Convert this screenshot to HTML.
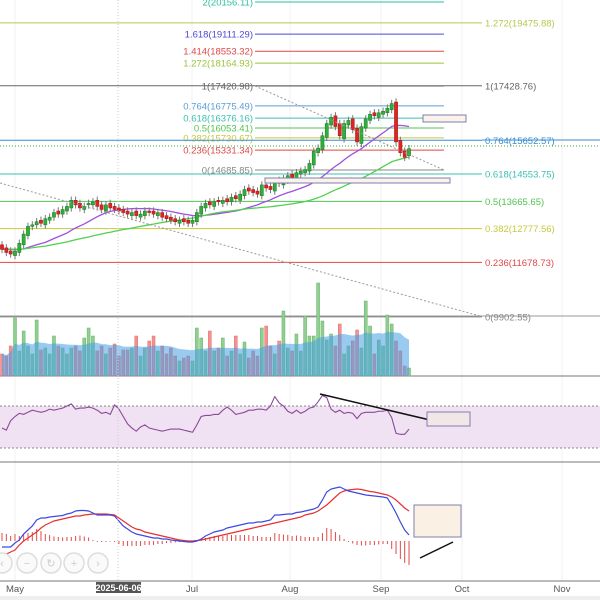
<!DOCTYPE html>
<html><head><meta charset="utf-8"><style>
html,body{margin:0;padding:0;background:#fff}
svg{display:block;font-family:"Liberation Sans",sans-serif}
</style></head><body>
<svg id="chart" width="600" height="600" viewBox="0 0 600 600">
<rect width="600" height="600" fill="#fff"/>
<g id="grid"></g>
<g id="fibs"></g>
<g id="vol"></g>
<g id="price"></g>
<g id="rsi"></g>
<g id="macd"></g>
<g id="ann">
  <line x1="0" y1="183" x2="480" y2="316" stroke="#999" stroke-dasharray="2,2"/>
  <line x1="255" y1="86" x2="444" y2="170" stroke="#999" stroke-dasharray="2,2"/>
  <rect x="423" y="115" width="43" height="7" fill="#fbf3ea" stroke="#7f7fb0"/>
  <rect x="265" y="178" width="185" height="5" fill="#fbf3ea" stroke="#7f7fb0"/>
  <line x1="320" y1="394" x2="430" y2="420" stroke="#111" stroke-width="1.5"/>
  <rect x="427" y="412" width="43" height="14" fill="#f3e6e6" stroke="#7f7fb0"/>
  <rect x="414" y="505" width="47" height="32" fill="#fbf0e4" stroke="#7f7fb0"/>
  <line x1="420" y1="558" x2="453" y2="542" stroke="#111" stroke-width="1.5"/>
</g>
<g id="axis"></g>
<g id="zoom"></g>
<rect x="0" y="596" width="600" height="4" fill="#eee"/>
</svg>
<script>
const NS="http://www.w3.org/2000/svg";
const closes=[12100,12000,11950,12050,12300,12600,12850,12900,13000,12950,13100,13150,13300,13250,13400,13500,13700,13550,13450,13500,13600,13650,13500,13400,13550,13450,13400,13350,13300,13250,13300,13200,13250,13350,13300,13250,13300,13150,13100,13050,13000,13050,13000,12950,13050,13300,13500,13600,13550,13650,13650,13700,13650,13800,13750,13900,14050,14000,13950,13900,14200,14100,14050,14300,14250,14400,14500,14450,14600,14650,14700,14900,15300,15400,15800,16200,16400,16100,15800,16200,16300,16000,15600,16100,16350,16500,16450,16550,16600,16700,16850,15600,15250,15100,15380];
const opens=[12250,12150,12050,11900,12000,12250,12550,12850,12900,13050,12900,13050,13150,13350,13250,13350,13450,13700,13600,13400,13550,13550,13700,13550,13350,13600,13500,13450,13400,13350,13200,13350,13150,13200,13350,13350,13200,13300,13200,13150,13100,12950,13100,13050,12950,13000,13250,13450,13650,13500,13700,13600,13750,13650,13850,13700,13850,14100,14050,14000,13850,14200,14150,14000,14350,14200,14350,14550,14400,14550,14600,14650,14850,15250,15350,15750,16150,16450,16200,15700,16150,16350,16050,15550,16050,16300,16550,16400,16500,16550,16650,16900,15650,15300,15150];
const volumes=[22,20,30,58,25,45,30,22,56,26,28,22,40,30,28,22,28,30,25,38,48,40,25,30,22,28,32,20,26,26,28,40,20,28,35,40,25,30,22,28,20,15,18,20,15,48,38,25,45,25,28,38,20,25,40,22,34,18,25,20,48,50,30,22,35,65,28,25,42,25,60,40,40,93,55,36,42,30,52,22,30,35,46,28,75,50,22,36,30,61,52,35,25,10,8];
const rsiValues=[49,47,56,60,63,62,64,66,65,64,65,67,66,67,68,70,72,67,68,68,69,68,66,63,64,62,71,67,60,53,49,46,50,52,49,48,47,46,47,48,48,48,47,46,45,52,60,61,61,62,62,66,69,66,62,63,64,66,66,67,67,66,70,79,73,70,65,63,66,63,65,68,69,74,80,78,67,64,66,63,64,63,58,63,64,64,64,65,65,66,59,44,43,43,48];
const macdValues=[-60,-60,-60,-20,10,70,110,150,210,230,230,240,245,250,255,270,280,300,305,305,300,280,260,260,260,260,250,200,150,120,90,70,60,50,40,30,30,20,20,10,5,0,-5,-10,-10,0,20,50,70,90,100,110,130,140,150,160,170,180,180,190,190,200,210,260,260,265,270,270,285,290,300,310,320,340,410,490,520,530,540,520,500,490,480,470,460,455,450,445,440,430,360,280,190,110,60];
const signalValues=[-140,-130,-110,-90,-40,0,30,60,90,130,160,180,200,210,220,230,240,250,250,260,265,270,270,270,270,265,260,230,200,170,140,120,110,90,80,70,60,50,40,30,20,10,5,0,0,5,10,20,30,40,50,60,70,80,90,100,110,120,130,140,150,160,170,180,190,200,210,220,230,240,260,270,280,300,330,360,400,440,480,500,510,515,520,515,505,495,490,480,470,460,440,410,370,330,300];
const tickLabels=["May","Jul","Aug","Sep","Oct","Nov"];
const tickX=[15,192,290,381,462,562];
const leftFibLevels=["2","1.618","1.414","1.272","1","0.764","0.618","0.5","0.382","0.236","0"];
const leftFibValues=[20156.11,19111.29,18553.32,18164.93,17420.98,16775.49,16376.16,16053.41,15730.67,15331.34,14685.85];
const leftFibColors=["#2bbfa0","#4a4ad0","#e04848","#9cc43c","#666","#5a9ed8","#3cbfb0","#52c452","#c8c840","#e04848","#888"];
const rightFibLevels=["1.272","1","0.764","0.618","0.5","0.382","0.236","0"];
const rightFibValues=[19475.88,17428.76,15652.57,14553.75,13665.65,12777.56,11678.73,9902.55];
const rightFibColors=["#b8c850","#666","#3a8ed0","#3cbfb0","#52c452","#c8c840","#e04848","#888"];

const N=closes.length;
const X=i=>2+i*4.33;
const Y=p=>86+(17420.98-p)*0.03071;
function el(tag,attrs,parent,text){const e=document.createElementNS(NS,tag);for(const k in attrs)e.setAttribute(k,attrs[k]);if(text!=null)e.textContent=text;parent.appendChild(e);return e;}
const g=id=>document.getElementById(id);

tickX.forEach(x=>{const l=el('line',{x1:x,y1:0,x2:x,y2:581,stroke:'#f0f0f0'},g('grid'));

});
[316,376,462].forEach(y=>{const l=el('line',{x1:0,y1:y,x2:600,y2:y,stroke:y==316?'#999':'#777'},g('grid'));

});

leftFibValues.forEach((v,i)=>{const y=Y(v);
const l=el('line',{x1:255,y1:y,x2:444,y2:y,stroke:leftFibColors[i]},g('fibs'));


const t=el('text',{x:253,y:y+3.5,'text-anchor':'end','font-size':9.5,fill:leftFibColors[i]},g('fibs'),leftFibLevels[i]+'('+v.toFixed(2)+')');

});
rightFibValues.forEach((v,i)=>{const y=Y(v);
const l=el('line',{x1:0,y1:y,x2:482,y2:y,stroke:rightFibColors[i]},g('fibs'));


const t=el('text',{x:485,y:y+3.5,'font-size':9.5,fill:rightFibColors[i]},g('fibs'),rightFibLevels[i]+'('+v.toFixed(2)+')');

});
{const l=el('line',{x1:482,y1:140,x2:600,y2:140,stroke:'#3a8ed0'},g('fibs'));


const d=el('line',{x1:0,y1:146,x2:600,y2:146,stroke:'#3a3',"stroke-dasharray":'1,2'},g('fibs'));

}

const VB=376;
volumes.forEach((v,i)=>{const up=closes[i]>=opens[i];
const r=el('rect',{x:X(i)-1.5,y:VB-v,width:3,height:v,fill:up?'#8fcf8f':'#f79090',stroke:up?'#6ab06a':'#e07070','stroke-width':0.5},g('vol'));

});
let vp='M'+X(0)+','+VB;
for(let i=0;i<N;i++){let s=0,c=0;for(let j=Math.max(0,i-19);j<=i;j++){s+=volumes[j];c++;}vp+=' L'+X(i)+','+(VB-s/c);}
vp+=' L'+X(N-1)+','+VB+'Z';
{const a=el('path',{d:vp,fill:'rgba(70,160,230,0.55)'},g('vol'));

}

function sma(p){const seed=[12300,12200,12100,12000,11950];const arr=[];for(let i=0;i<N;i++){let s=0;for(let j=i-p+1;j<=i;j++){s+=j<0?seed[(-j)%5]:closes[j];}arr.push(s/p);}return arr;}
[[20,'#a050e0','ma-20'],[45,'#50d050','ma-50']].forEach(([p,c,n])=>{const m=sma(p);
const l=el('polyline',{points:m.map((v,i)=>X(i)+','+Y(v)).join(' '),fill:'none',stroke:c,'stroke-width':1.3},g('price'));

});

closes.forEach((c,i)=>{const o=opens[i],up=c>=o,x=X(i);
const hi=Math.max(o,c)+120,lo=Math.min(o,c)-120;
const w=el('line',{x1:x,y1:Y(hi),x2:x,y2:Y(lo),stroke:'#777'},g('price'));


const b=el('rect',{x:x-1.6,y:Y(Math.max(o,c)),width:3.2,height:Math.max(1,Math.abs(Y(o)-Y(c))),fill:up?'#2fae3a':'#e02424',stroke:up?'#1a7a22':'#a01818','stroke-width':0.5},g('price'));

});

{const bg=el('rect',{x:0,y:406,width:600,height:42,fill:'#f0e2f2'},g('rsi'));


[406,448].forEach(y=>{const l=el('line',{x1:0,y1:y,x2:600,y2:y,stroke:'#888','stroke-dasharray':'2,2'},g('rsi'));

});}
{const l=el('polyline',{points:rsiValues.map((v,i)=>X(i)+','+(406+(70-v)*1.05)).join(' '),fill:'none',stroke:'#8a4a9a','stroke-width':1.1},g('rsi'));

}

const MZ=541,MY=v=>MZ-v/10;
macdValues.forEach((v,i)=>{const h=v-signalValues[i];
const l=el('line',{x1:X(i),y1:MZ,x2:X(i),y2:MY(h),stroke:'#e04848'},g('macd'));

});
{const s=el('polyline',{points:signalValues.map((v,i)=>X(i)+','+MY(v)).join(' '),fill:'none',stroke:'#e83030','stroke-width':1.2},g('macd'));


const m=el('polyline',{points:macdValues.map((v,i)=>X(i)+','+MY(v)).join(' '),fill:'none',stroke:'#3a4ae0','stroke-width':1.2},g('macd'));

}

{const l=el('line',{x1:0,y1:581,x2:600,y2:581,stroke:'#777'},g('axis'));

}
tickLabels.forEach((t,i)=>{const tx=el('text',{x:tickX[i],y:592,'text-anchor':'middle','font-size':9.5,fill:'#555'},g('axis'),t);

});
{const r=el('rect',{x:96,y:582,width:45,height:11,fill:'#555'},g('axis'));


const t=el('text',{x:118.5,y:591,'text-anchor':'middle','font-size':9,fill:'#fff','font-weight':'bold'},g('axis'),'2025-06-06');


const v=el('line',{x1:118,y1:0,x2:118,y2:581,stroke:'#ccc','stroke-dasharray':'1,2'},g('axis'));

}
['‹','−','↻','+','›'].forEach((s,i)=>{const cx=[2,27,51,74,98][i];
const c=el('circle',{cx:cx,cy:563,r:10,fill:'#fafafa',stroke:'#ddd','stroke-width':1.5},g('zoom'));


const t=el('text',{x:cx,y:567,'text-anchor':'middle','font-size':11,fill:'#ccc'},g('zoom'),s);

});
</script>
</body></html>
